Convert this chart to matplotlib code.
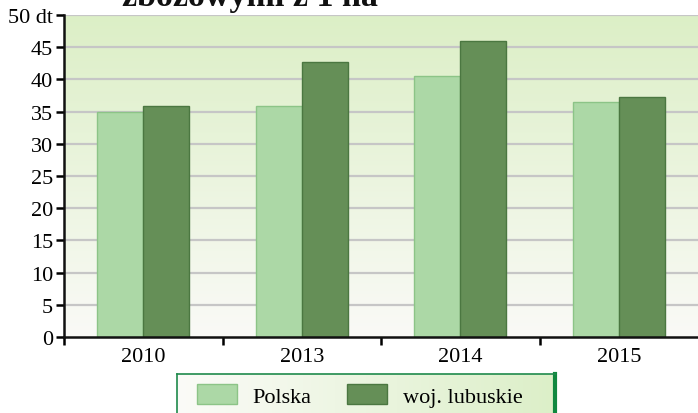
import numpy as np
import matplotlib.pyplot as plt
from matplotlib.colors import LinearSegmentedColormap

plt.rcParams['font.family'] = ['Liberation Serif', 'DejaVu Serif']

# plony zbóż (dt z 1 ha)
years = ['2010', '2013', '2014', '2015']
polska = [34.9, 35.8, 40.6, 36.5]
lubuskie = [35.8, 42.7, 45.9, 37.2]
y_ticks = [0, 5, 10, 15, 20, 25, 30, 35, 40, 45, 50]
y_labels = ['0', '5', '10', '15', '20', '25', '30', '35', '40', '45', '50 dt']

fig = plt.figure(figsize=(6.98, 4.14), dpi=100)
ax = fig.add_axes([64/698, 76/414, 634/698, 322/414])

# tło: gradient od jasnej zieleni u góry do bieli na dole
bg = LinearSegmentedColormap.from_list('bg', ['#fafaf7', '#dcefc6'])
grad = np.linspace(0, 1, 256).reshape(-1, 1)
ax.imshow(grad, cmap=bg, aspect='auto', extent=[-0.5, 3.5, 0, 50],
          origin='lower', zorder=0)

for t in y_ticks[1:]:
    ax.axhline(t, color='#c6c6c6', lw=1.6, zorder=1)

x = np.arange(len(years))
w = 0.29
b1 = ax.bar(x - w/2, polska, w, color='#acd8a6', edgecolor='#8cc487',
            lw=1, label='Polska', zorder=2)
b2 = ax.bar(x + w/2, lubuskie, w, color='#658f57', edgecolor='#4b7741',
            lw=1, label='woj. lubuskie', zorder=2)

ax.set_xlim(-0.5, 3.5)
ax.set_ylim(0, 50)

ax.set_yticks(y_ticks)
ax.set_yticklabels(y_labels, fontsize=16)
ax.tick_params(axis='y', length=6, width=1.8, pad=2)

ax.set_xticks([-0.5, 0.5, 1.5, 2.5])
ax.set_xticklabels([])
ax.set_xticks(x, minor=True)
ax.set_xticklabels(years, minor=True, fontsize=16)
ax.tick_params(axis='x', which='major', length=6, width=1.8)
ax.tick_params(axis='x', which='minor', length=0, pad=7)

for s in ['top', 'right']:
    ax.spines[s].set_visible(False)
for s in ['left', 'bottom']:
    ax.spines[s].set_linewidth(1.8)
    ax.spines[s].set_color('#111111')

fig.text(122/698, 1 - 6/414, 'zbożowymi z 1 ha', fontsize=24.5,
         fontweight='bold', ha='left', va='baseline', color='#111111')

# legenda w ramce z gradientem
lax = fig.add_axes([177/698, -10/414, 378/698, 49/414])
lbg = LinearSegmentedColormap.from_list('lbg', ['#fbfbf8', '#dcefc8'])
lax.imshow(np.linspace(0, 1, 256).reshape(1, -1), cmap=lbg, aspect='auto',
           extent=[0, 1, 0, 1])
lax.set_xticks([])
lax.set_yticks([])
lax.spines['bottom'].set_visible(False)
for s in ['left', 'top']:
    lax.spines[s].set_color('#1f8a4c')
    lax.spines[s].set_linewidth(1.2)
lax.spines['right'].set_color('#10883f')
lax.spines['right'].set_linewidth(3)
lax.legend(handles=[b1, b2], ncol=2, frameon=False, fontsize=16,
           loc='upper left', bbox_to_anchor=(0.0, 1.2),
           handlelength=1.8, handleheight=1.0, columnspacing=1.6,
           handletextpad=0.7)

fig.savefig('out.png', dpi=100)
